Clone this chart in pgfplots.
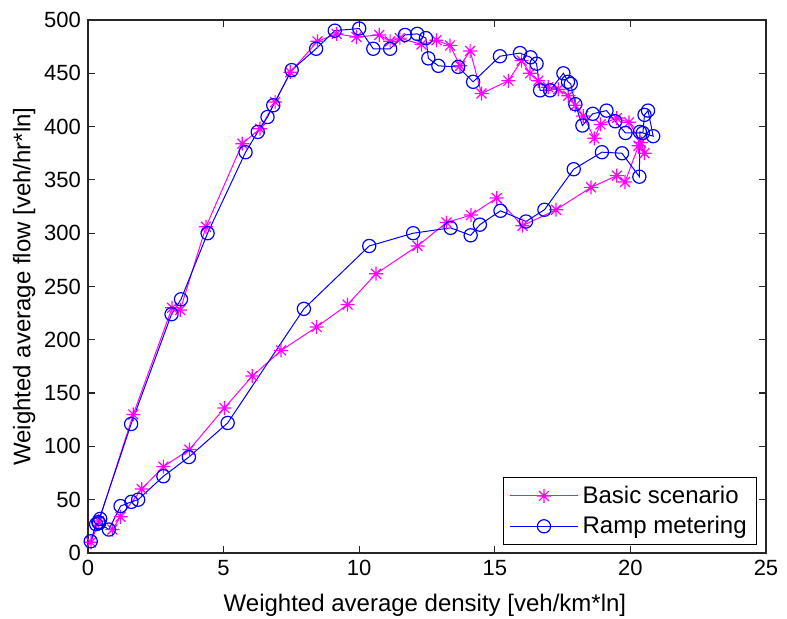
\documentclass[border=0pt]{standalone}
\usepackage{fontspec}
\setmainfont{Liberation Sans}
\usepackage{pgfplots}
\pgfplotsset{compat=1.18}
\pgfdeclareplotmark{mstar}{%
 \pgfpathmoveto{\pgfqpoint{-\pgfplotmarksize}{0pt}}\pgfpathlineto{\pgfqpoint{\pgfplotmarksize}{0pt}}%
 \pgfpathmoveto{\pgfqpoint{0pt}{-\pgfplotmarksize}}\pgfpathlineto{\pgfqpoint{0pt}{\pgfplotmarksize}}%
 \pgfpathmoveto{\pgfqpoint{-.707\pgfplotmarksize}{-.707\pgfplotmarksize}}\pgfpathlineto{\pgfqpoint{.707\pgfplotmarksize}{.707\pgfplotmarksize}}%
 \pgfpathmoveto{\pgfqpoint{-.707\pgfplotmarksize}{.707\pgfplotmarksize}}\pgfpathlineto{\pgfqpoint{.707\pgfplotmarksize}{-.707\pgfplotmarksize}}%
 \pgfusepathqstroke}
\definecolor{mag}{RGB}{255,0,255}
\definecolor{blu}{RGB}{0,0,255}
\begin{document}
\begin{tikzpicture}
\begin{axis}[
  name=ax,
  width=339pt, height=266.5pt, scale only axis,
  xmin=0, xmax=25, ymin=0, ymax=500,
  xtick={0,5,...,25}, ytick={0,50,...,500},
  tick align=inside, xtick pos=both, ytick pos=both,
  major tick length=3.5pt,
  axis line style={black!85, line width=0.6pt},
  every tick/.style={black!85, line width=0.6pt},
  /pgf/number format/assume math mode=true,
  tick label style={font=\fontsize{11}{13}\selectfont},
  label style={font=\fontsize{12}{14}\selectfont},
  xlabel={Weighted average density [veh/km*ln]},
  ylabel={Weighted average flow [veh/hr*ln]},
  xlabel style={at={(axis description cs:0.497,-0.0976)}, anchor=center},
  ylabel style={at={(axis description cs:-0.094,0.5)}, anchor=center},
  legend style={at={(0.987,0.015)}, anchor=south east, draw=black, line width=0.5pt,
    font=\fontsize{12}{14}\selectfont, inner xsep=3pt, inner ysep=2pt, row sep=1pt},
  legend cell align=left,
  legend image code/.code={\draw[mark repeat=2,mark phase=2] plot coordinates {(0cm,0cm) (0.6cm,0cm) (1.2cm,0cm)};},
]
\addplot[mag, line width=0.5pt, mark=mstar, mark size=3.5pt, mark options={line width=0.6pt}] coordinates {
(0.11,10) (0.4,30) (1.67,130) (3.1,230) (3.4,228) (4.35,306) (5.69,384) (6.34,398)
(6.9,423) (7.46,451) (8.46,480) (9.17,487) (9.9,484) (10.74,486) (11.14,480) (11.5,483)
(12.3,477) (12.85,481) (13.35,476) (13.72,457) (14.09,471) (14.51,431) (15.5,443)
(15.99,462) (16.3,450) (16.6,443) (16.97,437) (17.34,435) (17.71,429) (17.97,420)
(18.26,410) (18.67,389) (18.9,402) (19.5,408) (19.95,404) (20.39,385) (20.52,375)
(20.3,382) (19.8,348) (19.5,354) (18.55,343) (17.26,322) (16.02,307) (15.07,333)
(14.12,317) (13.22,310) (12.15,288) (10.62,262) (9.57,233) (8.43,212) (7.12,190)
(6.06,166) (5.03,136) (3.74,97) (2.78,81) (1.98,60) (1.2,34) (0.9,22)
};
\addlegendentry{Basic scenario}
\addplot[blu, line width=0.5pt, mark=o, mark size=3.3pt, mark options={line width=0.6pt}] coordinates {
(0.1,11) (0.3,27) (0.45,32) (0.38,29) (1.59,121) (3.08,224) (3.43,238) (4.41,300)
(5.81,376) (6.26,395) (6.62,409) (6.83,420) (7.51,453) (8.41,473) (9.1,490) (10.0,492)
(10.52,473) (11.14,473) (11.69,486) (12.14,487) (12.46,483) (12.55,464) (12.92,457)
(13.65,456) (14.2,442) (15.19,466) (15.93,469) (16.32,465) (16.54,459) (16.67,434)
(17.04,434) (17.53,450) (17.7,442) (17.8,440) (17.97,421) (18.23,401) (18.61,412)
(19.12,415) (19.44,405) (19.82,394) (20.46,394) (20.52,411) (20.65,415) (20.84,391)
(20.35,395) (20.33,353) (19.69,375) (18.95,376) (17.91,360) (16.83,322) (16.15,311)
(15.21,321) (14.45,308) (14.11,298) (13.37,305) (11.99,300) (10.37,288) (7.96,229)
(5.15,122) (3.72,90) (2.78,72) (1.85,50) (1.6,48) (1.2,44) (0.77,22) (0.41,28)
};
\addlegendentry{Ramp metering}
\end{axis}
\pgfresetboundingbox
\useasboundingbox ([xshift=-44pt,yshift=10pt]ax.north west) rectangle ([xshift=10.5pt,yshift=-33pt]ax.south east);
\end{tikzpicture}
\end{document}
